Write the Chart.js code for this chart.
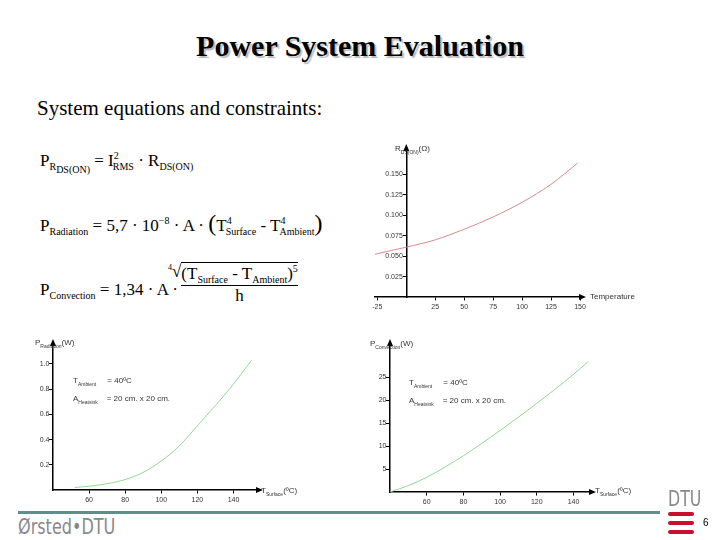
<!DOCTYPE html>
<html>
<head>
<meta charset="utf-8">
<script src="https://cdn.jsdelivr.net/npm/chart.js@4"></script>
<style>
  body { margin: 0; width: 720px; height: 540px; position: relative; background: #fff; overflow: hidden; font-family: "Liberation Serif", serif; }
  .abs { position: absolute; }
  h1 { position: absolute; left: 0; width: 720px; top: 29px; margin: 0; text-align: center; font: bold 30px "Liberation Serif", serif; text-shadow: 2px 2px 1px #bbb; }
  .sub { left: 37px; top: 96px; font-size: 21px; }
  .eq { font-size: 17px; white-space: nowrap; }
  .eq sub { font-size: 10px; }
  .eq sup { font-size: 10px; }
  .lbl { font: 8px "Liberation Sans", sans-serif; color: #333; white-space: nowrap; }
  .lbl sub { font-size: 5px; }
  canvas { position: absolute; }
</style>
</head>
<body>
<h1>Power System Evaluation</h1>
<div class="abs sub">System equations and constraints:</div>

<div class="abs eq" style="left:40px;top:150px">P<sub>R<sub>DS(ON)</sub></sub> = I<sup>2</sup><sub style="margin-left:-6px">RMS</sub> · R<sub>DS(ON)</sub></div>
<div class="abs eq" style="left:40px;top:210px">P<sub>Radiation</sub> = 5,7 · 10<sup>−8</sup> · A · <span style="font-size:24px">(</span>T<sup>4</sup><sub style="margin-left:-6px">Surface</sub> - T<sup>4</sup><sub style="margin-left:-6px">Ambient</sub><span style="font-size:24px">)</span></div>
<div class="abs eq" style="left:40px;top:280px">P<sub>Convection</sub> = 1,34 · A ·</div>
<div class="abs eq" style="left:168px;top:262px"><sup style="font-size:8px">4</sup>√<span style="display:inline-block;border-top:1px solid #000;text-align:center;vertical-align:top">
  <span style="display:block;border-bottom:1px solid #000">(T<sub>Surface</sub> - T<sub>Ambient</sub>)<sup>5</sup></span>
  <span style="display:block">h</span></span></div>

<canvas id="rChart" style="left:365px;top:140px" width="275" height="175"></canvas>
<canvas id="radChart" style="left:25px;top:335px" width="285" height="172"></canvas>
<canvas id="convChart" style="left:365px;top:335px" width="285" height="172"></canvas>

<div class="abs lbl" style="left:395px;top:144px">R<sub>DS(ON)</sub>(Ω)</div>
<div class="abs lbl" style="left:590px;top:292px">Temperature</div>
<div class="abs lbl" style="left:35px;top:338px">P<sub>Radiation</sub>(W)</div>
<div class="abs lbl" style="left:261px;top:486px">T<sub>Surface</sub>(ºC)</div>
<div class="abs lbl" style="left:370px;top:339px">P<sub>Convection</sub>(W)</div>
<div class="abs lbl" style="left:595px;top:486px">T<sub>Surface</sub>(ºC)</div>
<div class="abs lbl" style="left:73px;top:376px">T<sub>Ambient</sub> &nbsp;&nbsp;&nbsp;&nbsp;= 40ºC</div>
<div class="abs lbl" style="left:73px;top:394px">A<sub>Heatsink</sub> &nbsp;&nbsp;&nbsp;= 20 cm. x 20 cm.</div>
<div class="abs lbl" style="left:409px;top:378px">T<sub>Ambient</sub> &nbsp;&nbsp;&nbsp;&nbsp;= 40ºC</div>
<div class="abs lbl" style="left:409px;top:396px">A<sub>Heatsink</sub> &nbsp;&nbsp;&nbsp;= 20 cm. x 20 cm.</div>

<div class="abs" style="left:18px;top:511px;width:642px;height:3px;background:#5f8f8a"></div>
<div class="abs" style="left:18px;top:515px;line-height:1;font:21px 'DejaVu Sans Condensed', sans-serif;color:#888;transform:scaleX(0.85);transform-origin:left">Ørsted•DTU</div>
<div class="abs" style="left:668px;top:486px;line-height:1;font:22px 'DejaVu Sans Condensed', sans-serif;color:#888;transform:scaleX(0.8);transform-origin:left">DTU</div>
<div class="abs" style="left:668px;top:512px;width:26px;height:4px;background:#c8102e;border-radius:2px"></div>
<div class="abs" style="left:668px;top:521px;width:26px;height:4px;background:#c8102e;border-radius:2px"></div>
<div class="abs" style="left:668px;top:530px;width:26px;height:4px;background:#c8102e;border-radius:2px"></div>
<div class="abs" style="left:703px;top:517px;font:10px 'Liberation Sans', sans-serif">6</div>

<script>
// R_DS(ON) versus temperature
const rTemp = [-30, -25, 0, 25, 50, 75, 100, 125, 148];
const rValue = [0.051, 0.053, 0.061, 0.070, 0.083, 0.098, 0.116, 0.138, 0.164];
const rXTicks = [-25, 25, 50, 75, 100, 125, 150];
const rYTicks = [0.025, 0.05, 0.075, 0.1, 0.125, 0.15];
// radiation power versus surface temperature
const radTemp = [52, 60, 70, 80, 90, 100, 110, 120, 130, 140, 150];
const radPower = [0.02, 0.03, 0.05, 0.083, 0.14, 0.23, 0.35, 0.51, 0.67, 0.84, 1.03];
const radXTicks = [60, 80, 100, 120, 140];
const radYTicks = [0.2, 0.4, 0.6, 0.8, 1.0];
// convection power versus surface temperature
const convTemp = [40, 50, 60, 80, 100, 120, 140, 148];
const convPower = [0, 1.4, 3.2, 7.9, 13.4, 19.3, 25.6, 28.4];
const convXTicks = [60, 80, 100, 120, 140];
const convYTicks = [5, 10, 15, 20, 25];

// arrow heads at the ends of both axes
function arrowPlugin(origin) {
  return {
    id: "axisArrows",
    afterDraw(chart) {
      const c = chart.ctx, a = chart.chartArea;
      const x0 = chart.scales.x.getPixelForValue(origin);
      const y0 = chart.scales.y.getPixelForValue(0);
      c.save();
      c.fillStyle = "#000";
      c.beginPath(); c.moveTo(a.right + 6, y0); c.lineTo(a.right - 1, y0 - 3); c.lineTo(a.right - 1, y0 + 3); c.closePath(); c.fill();
      c.beginPath(); c.moveTo(x0, a.top - 6); c.lineTo(x0 - 3, a.top + 1); c.lineTo(x0 + 3, a.top + 1); c.closePath(); c.fill();
      c.restore();
    }
  };
}

function makeChart(id, xs, ys, color, xr, yr, xTicks, yTicks, pad, fmt) {
  const tickFont = { size: 7, family: "Liberation Sans" };
  new Chart(document.getElementById(id), {
    type: "line",
    data: {
      datasets: [{
        data: xs.map((x, i) => ({ x: x, y: ys[i] })),
        borderColor: color,
        borderWidth: 1,
        pointRadius: 0,
        tension: 0.4,
        cubicInterpolationMode: "monotone"
      }]
    },
    options: {
      responsive: false,
      animation: false,
      layout: { padding: pad },
      plugins: { legend: { display: false }, tooltip: { enabled: false } },
      scales: {
        x: {
          type: "linear", min: xr[0], max: xr[1],
          position: { y: 0 },
          afterBuildTicks: s => { s.ticks = xTicks.map(v => ({ value: v })); },
          border: { color: "#000", width: 1.5 },
          grid: { drawOnChartArea: false, tickLength: 3, color: "#000" },
          ticks: { color: "#333", font: tickFont, maxRotation: 0, autoSkip: false }
        },
        y: {
          type: "linear", min: yr[0], max: yr[1],
          position: { x: xr[2] },
          afterBuildTicks: s => { s.ticks = yTicks.map(v => ({ value: v })); },
          border: { color: "#000", width: 1.5 },
          grid: { drawOnChartArea: false, tickLength: 3, color: "#000" },
          ticks: { color: "#333", font: tickFont, autoSkip: false, callback: v => fmt(v) + "\u2002" }
        }
      }
    },
    plugins: [arrowPlugin(xr[2])]
  });
}

makeChart("rChart", rTemp, rValue, "#d98a90", [-27, 150, 0], [0, 0.18], rXTicks, rYTicks,
  { left: 10, right: 60, top: 10, bottom: 18 }, v => v.toFixed(3));
makeChart("radChart", radTemp, radPower, "#92d892", [40, 153, 40], [0, 1.15], radXTicks, radYTicks,
  { left: 28, right: 53, top: 10, bottom: 17 }, v => v.toFixed(1));
makeChart("convChart", convTemp, convPower, "#92d892", [40, 149, 40], [0, 32], convXTicks, convYTicks,
  { left: 25, right: 60, top: 10, bottom: 15 }, v => v);
</script>
</body>
</html>
